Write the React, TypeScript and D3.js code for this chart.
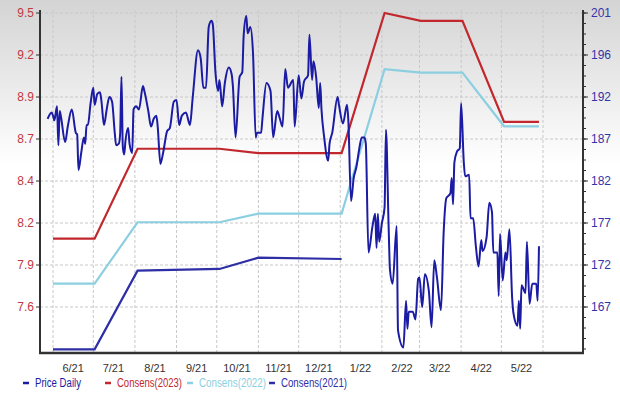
import React from "react";
import * as d3 from "d3";

// ---------- data ----------
const START_DATE = new Date(2021, 5, 1);
const END_DATE = new Date(2022, 5, 1);

const monthLabels = ["6/21", "7/21", "8/21", "9/21", "10/21", "11/21", "12/21", "1/22", "2/22", "3/22", "4/22", "5/22"];
const leftTickLabels = ["9.5", "9.2", "8.9", "8.7", "8.4", "8.2", "7.9", "7.6"];
const rightTickLabels = ["201", "196", "192", "187", "182", "177", "172", "167"];

// days since 2021-06-01
const priceDays = [
  -4, -1, 0, 1, 3, 4, 5, 6, 9, 11, 14, 17, 18, 19, 21, 23, 24, 25, 26, 28,
  30, 31, 33, 35, 36, 38, 40, 42, 44, 46, 47, 49, 50, 51, 52, 53, 54, 56, 57, 59,
  60, 62, 64, 67, 68, 71, 73, 75, 77, 78, 80, 82, 85, 87, 90, 92, 94, 96, 99, 102,
  104, 108, 110, 112, 114, 116, 118, 119, 121, 123, 124, 126, 128, 131, 133, 134, 136, 139, 141, 142,
  144, 145, 147, 149, 151, 152, 155, 156, 159, 162, 164, 167, 169, 171, 173, 175, 179, 180, 183, 185,
  187, 190, 191, 193, 194, 196, 198, 199, 200, 202, 205, 206, 208, 212, 213, 216, 219, 220, 222, 224,
  226, 228, 230, 232, 233, 235, 238, 240, 241, 242, 243, 245, 247, 248, 250, 251, 253, 256, 257, 261,
  263, 264, 265, 268, 270, 272, 273, 275, 277, 280, 282, 284, 286, 289, 291, 293, 296, 297, 298, 299,
  301, 303, 304, 306, 307, 310, 311, 313, 315, 317, 319, 320, 323, 325, 327, 328, 331, 332, 333, 335,
  337, 338, 340, 342, 343, 346, 347, 348, 349, 352, 353, 355, 357, 360, 361, 362,
];
const priceValues = [
  8.82, 8.86, 8.84, 8.81, 8.9, 8.65, 8.87, 8.83, 8.67, 8.77, 8.88, 8.73, 8.72, 8.49, 8.6, 8.7, 8.66, 8.78, 8.78, 8.92,
  9.02, 8.91, 8.98, 8.99, 8.94, 8.78, 8.88, 8.96, 8.93, 8.73, 8.65, 8.66, 8.72, 9.09, 8.64, 8.59, 8.68, 8.76, 8.66, 8.6,
  8.88, 8.9, 8.88, 9.03, 9.0, 8.87, 8.77, 8.82, 8.84, 8.77, 8.53, 8.6, 8.74, 8.76, 8.93, 8.94, 8.78, 8.84, 8.86, 8.78,
  8.95, 9.26, 9.21, 9.02, 9.02, 9.41, 9.45, 9.43, 9.12, 9.0, 9.07, 8.9, 9.05, 9.15, 9.11, 9.03, 8.7, 9.09, 9.12, 9.35,
  9.48, 9.37, 9.41, 9.24, 8.7, 8.73, 8.73, 8.82, 9.05, 9.0, 8.7, 8.87, 8.82, 8.77, 9.14, 9.02, 9.07, 8.77, 9.1, 8.95,
  9.06, 9.1, 9.36, 9.07, 9.19, 9.09, 8.89, 9.05, 8.88, 8.7, 8.55, 8.66, 8.73, 8.96, 8.91, 8.79, 8.91, 8.81, 8.29, 8.44,
  8.51, 8.62, 8.7, 8.7, 8.66, 7.96, 8.13, 8.21, 7.99, 8.21, 8.03, 8.15, 8.25, 8.75, 8.13, 7.85, 7.76, 8.13, 7.46, 7.35,
  7.65, 7.47, 7.58, 7.58, 7.53, 7.79, 7.8, 7.61, 7.82, 7.71, 7.48, 7.91, 7.8, 7.59, 8.09, 8.31, 8.34, 8.44, 8.27, 8.54,
  8.61, 8.63, 8.92, 8.54, 8.45, 8.46, 8.18, 8.18, 8.0, 7.87, 8.04, 7.97, 8.06, 8.28, 8.22, 7.96, 7.96, 7.68, 8.08, 7.78,
  7.96, 7.91, 8.11, 7.67, 7.57, 7.49, 7.65, 7.47, 7.75, 7.7, 8.03, 7.63, 7.76, 7.76, 7.65, 8.0,
];

const consDays2023 = [0, 31, 63, 124, 153, 215, 247, 274, 305, 336, 362];
const consValues2023 = [174.9, 174.9, 185.3, 185.3, 184.8, 184.8, 201.0, 200.1, 200.1, 188.4, 188.4];

const consDays2022 = [0, 31, 63, 124, 153, 215, 247, 274, 305, 336, 362];
const consValues2022 = [169.7, 169.7, 176.8, 176.8, 177.8, 177.8, 194.5, 194.1, 194.1, 187.9, 187.9];

const consDays2021 = [0, 31, 63, 124, 153, 215];
const consValues2021 = [162.1, 162.1, 171.2, 171.4, 172.7, 172.55];

const legendNames = ["Price Daily", "Consens(2023)", "Consens(2022)", "Consens(2021)"];

// ---------- layout ----------
const W = 620;
const H = 393;
const PLOT_LEFT = 40;
const PLOT_RIGHT = 583;
const PLOT_TOP = 13;
const PLOT_BOTTOM = 353;
const TICK_PX = 42;
const LEFT_TOP = 9.5;
const LEFT_STEP = 0.27;
const RIGHT_TOP = 201;
const RIGHT_STEP = 34 / 7;

const COLORS = {
  price: "#1b1ba3",
  c2023: "#c1272d",
  c2022: "#8ccfe0",
  c2021: "#2e2ea6",
  leftText: "#c0393f",
  rightText: "#3434a8",
  axis: "#333333",
  grid: "#c8c8c8",
  xText: "#333333",
};

export default function App() {
  const nSteps = (PLOT_BOTTOM - PLOT_TOP) / TICK_PX;
  const yL = d3
    .scaleLinear()
    .domain([LEFT_TOP - nSteps * LEFT_STEP, LEFT_TOP])
    .range([PLOT_BOTTOM, PLOT_TOP]);
  const yR = d3
    .scaleLinear()
    .domain([RIGHT_TOP - nSteps * RIGHT_STEP, RIGHT_TOP])
    .range([PLOT_BOTTOM, PLOT_TOP]);
  const x = d3.scaleTime().domain([START_DATE, END_DATE]).range([53, 543]);
  const dayToDate = (d: number) => d3.timeDay.offset(START_DATE, d);

  const monthStarts = d3.timeMonth.range(START_DATE, d3.timeDay.offset(END_DATE, 1));

  const priceLine = d3
    .line<number>()
    .x((_, i) => x(dayToDate(priceDays[i])))
    .y((v) => yL(v))
    .curve(d3.curveMonotoneX);

  const consLine = (days: number[]) =>
    d3
      .line<number>()
      .x((_, i) => x(dayToDate(days[i])))
      .y((v) => yR(v));

  const leftTicks = leftTickLabels.map((lab, i) => ({ lab, v: LEFT_TOP - i * LEFT_STEP }));
  const rightTicks = rightTickLabels.map((lab, i) => ({ lab, v: RIGHT_TOP - i * RIGHT_STEP }));
  const minorRight: number[] = [];
  for (let v = RIGHT_TOP; v > yR.domain()[0]; v -= RIGHT_STEP / 4) minorRight.push(v);

  const legendColors = [COLORS.price, COLORS.c2023, COLORS.c2022, COLORS.c2021];
  const legendMarkX = [26, 108, 190, 272];
  const legendTextW = [46, 65, 67, 66];

  const font = "'Liberation Sans', Arial, sans-serif";

  return (
    <svg width={W} height={H} style={{ position: "absolute", left: 0, top: 0 }}>
      <defs>
        <linearGradient id="bg" x1="0" y1="0" x2="0" y2="1">
          <stop offset="0" stopColor="#d4d4d4" />
          <stop offset="0.42" stopColor="#ffffff" />
          <stop offset="1" stopColor="#ffffff" />
        </linearGradient>
      </defs>
      <rect x={0} y={0} width={W} height={H} fill="url(#bg)" />

      {/* gridlines */}
      {leftTicks.map((t, i) => (
        <line
          key={"hg" + i}
          x1={PLOT_LEFT}
          x2={PLOT_RIGHT}
          y1={yL(t.v)}
          y2={yL(t.v)}
          stroke={COLORS.grid}
          strokeDasharray="3,2"
          strokeWidth={1}
        />
      ))}
      {monthStarts.map((m, i) => (
        <line
          key={"vg" + i}
          x1={x(m)}
          x2={x(m)}
          y1={PLOT_TOP - 3}
          y2={PLOT_BOTTOM}
          stroke={COLORS.grid}
          strokeDasharray="3,2"
          strokeWidth={1}
        />
      ))}

      {/* consensus lines */}
      <path d={consLine(consDays2023)(consValues2023) || ""} fill="none" stroke={COLORS.c2023} strokeWidth={2.2} />
      <path d={consLine(consDays2022)(consValues2022) || ""} fill="none" stroke={COLORS.c2022} strokeWidth={2.2} />
      <path d={consLine(consDays2021)(consValues2021) || ""} fill="none" stroke={COLORS.c2021} strokeWidth={2.2} />

      {/* price */}
      <path d={priceLine(priceValues) || ""} fill="none" stroke={COLORS.price} strokeWidth={2} strokeLinejoin="round" />

      {/* axes */}
      <line x1={PLOT_LEFT} x2={PLOT_LEFT} y1={PLOT_TOP - 3} y2={PLOT_BOTTOM + 1} stroke={COLORS.axis} strokeWidth={2} />
      <line x1={PLOT_RIGHT} x2={PLOT_RIGHT} y1={PLOT_TOP - 3} y2={PLOT_BOTTOM + 1} stroke={COLORS.axis} strokeWidth={2} />
      <line x1={PLOT_LEFT - 1} x2={PLOT_RIGHT + 1} y1={PLOT_BOTTOM} y2={PLOT_BOTTOM} stroke={COLORS.axis} strokeWidth={2.5} />

      {leftTicks.map((t, i) => (
        <g key={"lt" + i}>
          <line x1={PLOT_LEFT - 4} x2={PLOT_LEFT} y1={yL(t.v)} y2={yL(t.v)} stroke={COLORS.axis} strokeWidth={1} />
          <text
            x={PLOT_LEFT - 6}
            y={yL(t.v)}
            dy="0.35em"
            textAnchor="end"
            fontFamily={font}
            fontSize={12}
            fill={COLORS.leftText}
          >
            {t.lab}
          </text>
        </g>
      ))}

      {minorRight.map((v, i) => (
        <line
          key={"mr" + i}
          x1={PLOT_RIGHT}
          x2={PLOT_RIGHT + 3}
          y1={yR(v)}
          y2={yR(v)}
          stroke={COLORS.axis}
          strokeWidth={1}
        />
      ))}
      {rightTicks.map((t, i) => (
        <g key={"rt" + i}>
          <line x1={PLOT_RIGHT} x2={PLOT_RIGHT + 5} y1={yR(t.v)} y2={yR(t.v)} stroke={COLORS.axis} strokeWidth={1} />
          <text
            x={PLOT_RIGHT + 8}
            y={yR(t.v)}
            dy="0.35em"
            textAnchor="start"
            fontFamily={font}
            fontSize={12}
            fill={COLORS.rightText}
          >
            {t.lab}
          </text>
        </g>
      ))}

      {monthLabels.map((lab, i) => {
        const mid = d3.timeDay.offset(d3.timeMonth.offset(START_DATE, i), 15);
        return (
          <text
            key={"xl" + i}
            x={x(mid)}
            y={368}
            dy="0.35em"
            textAnchor="middle"
            fontFamily={font}
            fontSize={11}
            fill={COLORS.xText}
          >
            {lab}
          </text>
        );
      })}

      {/* legend */}
      {legendNames.map((name, i) => (
        <g key={"lg" + i} transform={`translate(${legendMarkX[i]},383)`}>
          <line x1={-3} x2={3} y1={0} y2={0} stroke={legendColors[i]} strokeWidth={2.5} />
          <text
            x={9}
            y={0}
            dy="0.35em"
            fontFamily={font}
            fontSize={12}
            textLength={legendTextW[i]}
            lengthAdjust="spacingAndGlyphs"
            fill={legendColors[i]}
          >
            {name}
          </text>
        </g>
      ))}
    </svg>
  );
}
